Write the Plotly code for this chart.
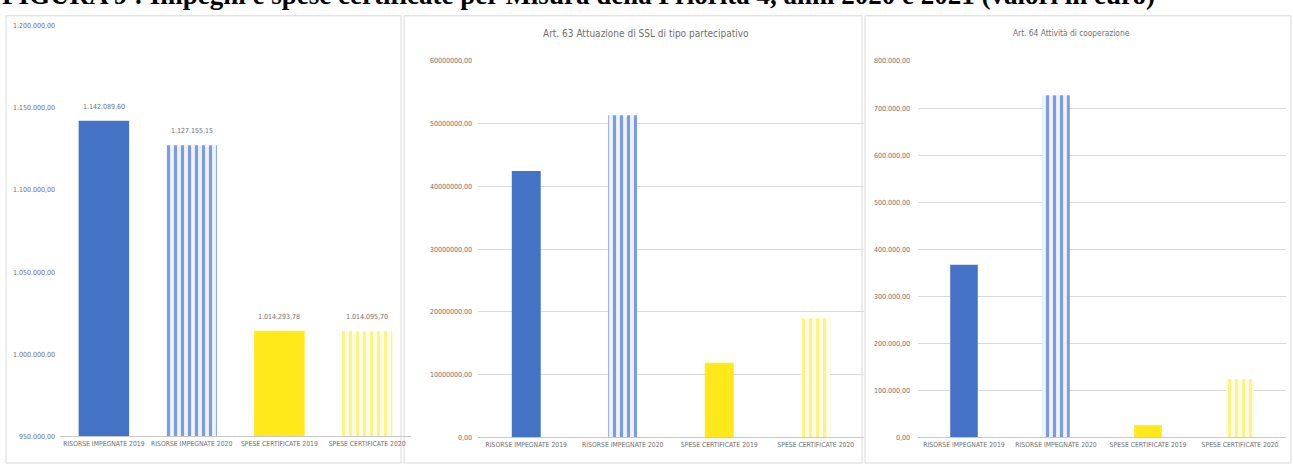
import plotly.graph_objects as go

W, H = 1293, 468

# ---- data -------------------------------------------------------------
categories = ["RISORSE IMPEGNATE 2019", "RISORSE IMPEGNATE 2020",
              "SPESE CERTIFICATE 2019", "SPESE CERTIFICATE 2020"]

totale_values = [1142089.60, 1127155.15, 1014293.78, 1014095.70]
totale_labels = ["1.142.089,60", "1.127.155,15", "1.014.293,78", "1.014.095,70"]
totale_ticks = [950000, 1000000, 1050000, 1100000, 1150000, 1200000]
totale_ticktext = ["950.000,00", "1.000.000,00", "1.050.000,00",
                   "1.100.000,00", "1.150.000,00", "1.200.000,00"]

art63_values = [42450000, 51350000, 11900000, 19000000]
art63_ticks = [0, 10000000, 20000000, 30000000, 40000000, 50000000, 60000000]
art63_ticktext = ["0,00", "10000000,00", "20000000,00", "30000000,00",
                  "40000000,00", "50000000,00", "60000000,00"]

art64_values = [367000, 727000, 26000, 124000]
art64_ticks = [0, 100000, 200000, 300000, 400000, 500000, 600000, 700000, 800000]
art64_ticktext = ["0,00", "100.000,00", "200.000,00", "300.000,00", "400.000,00",
                  "500.000,00", "600.000,00", "700.000,00", "800.000,00"]

# ---- styling ----------------------------------------------------------
FONT = "DejaVu Sans Condensed"
TXT = "#707070"
# (solid colour / stripe colour, stripe background or None for a solid fill)
bar_styles = [
    ("#4472C4", None),
    ("#7b9de0", "#eef2fb"),
    ("#FFE91A", None),
    ("#fff383", "#fffdee"),
]


def px_x(p):
    return p / W


def px_y(p):
    return 1 - p / H


def add_panel(values, ax, width):
    for cat, val, (col, bg) in zip(categories, values, bar_styles):
        marker = dict(color=col, line=dict(width=0))
        if bg is not None:
            marker["pattern"] = dict(shape="|", fgcolor=col, bgcolor=bg,
                                     size=7, solidity=0.45, fillmode="replace")
        fig.add_trace(go.Bar(
            x=[cat], y=[val], xaxis="x" + ax, yaxis="y" + ax, width=width,
            marker=marker, showlegend=False, hoverinfo="x+y",
        ))


fig = go.Figure()
add_panel(totale_values, "", 0.575)
add_panel(art63_values, "2", 0.3)
add_panel(art64_values, "3", 0.3)

# value labels above the bars of the first panel
for cat, val, lab in zip(categories, totale_values, totale_labels):
    fig.add_annotation(x=cat, y=val, xref="x", yref="y", text=lab,
                       showarrow=False, yanchor="middle", yshift=14,
                       font=dict(family=FONT, size=7, color=TXT))

xcommon = dict(showgrid=False, showline=True, linecolor="#c8c8c8", linewidth=1,
               ticks="", tickfont=dict(family=FONT, size=6.8, color=TXT),
               fixedrange=True, zeroline=False)
ycommon = dict(showline=False, ticks="", zeroline=False,
               tickfont=dict(family=FONT, size=7, color=TXT), fixedrange=True)

fig.update_layout(
    width=W, height=H,
    margin=dict(l=0, r=0, t=0, b=0),
    paper_bgcolor="white", plot_bgcolor="white",
    barmode="overlay",
    xaxis=dict(domain=[px_x(60), px_x(411)], anchor="y", **xcommon),
    yaxis=dict(domain=[px_y(440), px_y(22)], anchor="x", range=[950000, 1200000],
               tickvals=totale_ticks, ticktext=totale_ticktext, showgrid=False,
               ticklabelstandoff=4, **ycommon),
    xaxis2=dict(domain=[px_x(478), px_x(864)], anchor="y2", **xcommon),
    yaxis2=dict(domain=[px_y(441), px_y(58)], anchor="x2", range=[0, 60000000],
                tickvals=art63_ticks, ticktext=art63_ticktext, showgrid=True,
                gridcolor="#dadada", gridwidth=1, ticklabelstandoff=5, **ycommon),
    xaxis3=dict(domain=[px_x(918), px_x(1286)], anchor="y3", **xcommon),
    yaxis3=dict(domain=[px_y(441), px_y(58)], anchor="x3", range=[0, 800000],
                tickvals=art64_ticks, ticktext=art64_ticktext, showgrid=True,
                gridcolor="#dadada", gridwidth=1, ticklabelstandoff=7, **ycommon),
)

# chart-area frames of the three panels
for x0, x1 in [(6, 401), (404, 862), (865, 1291)]:
    fig.add_shape(type="rect", xref="paper", yref="paper",
                  x0=px_x(x0), x1=px_x(x1), y0=px_y(467), y1=px_y(12),
                  line=dict(color="#d9d9d9", width=1), layer="below")

# figure heading across the top
fig.add_annotation(
    text="<b>FIGURA 9 : Impegni e spese certificate per Misura della Priorità 4, anni 2020 e 2021 (valori in euro)</b>",
    xref="paper", yref="paper", x=0, y=px_y(8), xanchor="left", yanchor="bottom",
    showarrow=False, font=dict(family="Liberation Serif", size=27, color="black"))

# panel titles
fig.add_annotation(text="Art. 63 Attuazione di SSL di tipo partecipativo",
                   xref="paper", yref="paper", x=px_x(646), y=px_y(30),
                   xanchor="center", yanchor="middle", showarrow=False,
                   font=dict(family=FONT, size=10, color=TXT))
fig.add_annotation(text="Art. 64 Attività di cooperazione",
                   xref="paper", yref="paper", x=px_x(1071), y=px_y(30),
                   xanchor="center", yanchor="middle", showarrow=False,
                   font=dict(family=FONT, size=8.3, color=TXT))

fig.write_html("out.html")
